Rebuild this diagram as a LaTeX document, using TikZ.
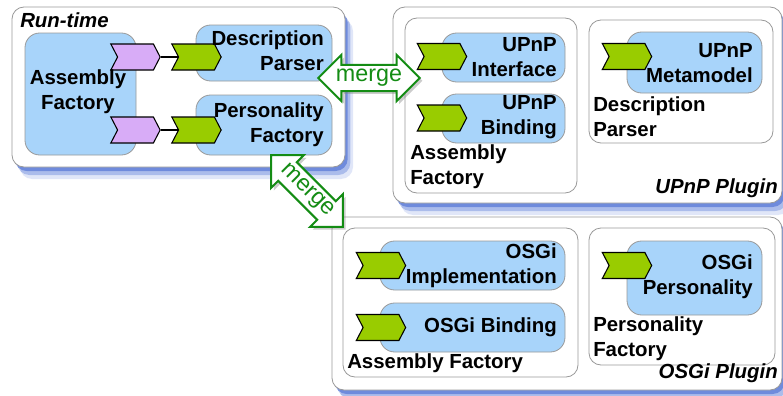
\documentclass[tikz,border=0pt]{standalone}
\usepackage{fontspec}
\setmainfont{Liberation Sans}
\usetikzlibrary{shapes.symbols,shapes.arrows,shadows}
\definecolor{compblue}{RGB}{168,212,250}
\definecolor{reqpurple}{RGB}{216,172,247}
\definecolor{provgreen}{RGB}{153,204,0}
\definecolor{mergegreen}{RGB}{20,140,20}
\definecolor{shadowblue}{RGB}{50,90,205}
\tikzset{
  glow/.style={drop shadow={shadow xshift=2pt,shadow yshift=-3pt,fill=shadowblue,opacity=.5},
               drop shadow={shadow xshift=4pt,shadow yshift=-6pt,fill=shadowblue,opacity=.3},
               drop shadow={shadow xshift=6pt,shadow yshift=-9pt,fill=shadowblue,opacity=.15}},
  plugin/.style={draw=gray!80,line width=0.6pt,fill=white,rounded corners=9pt,glow},
  part/.style={draw=gray!80,line width=0.6pt,fill=white,rounded corners=9pt},
  comp/.style={draw=gray!80,line width=0.6pt,fill=compblue,rounded corners=11pt},
  port/.style={signal,signal from=west,signal to=east,signal pointer angle=125,draw=black,
               line width=0.8pt,minimum width=37pt,minimum height=19.5pt,inner sep=0pt},
  req/.style={port,fill=reqpurple},
  prov/.style={port,fill=provgreen},
  lbl/.style={font=\fontsize{15.3}{18.75}\selectfont\bfseries,inner sep=0pt},
  title/.style={font=\fontsize{15.3}{18.75}\selectfont\bfseries\itshape,inner sep=0pt},
  merge/.style={double arrow,draw=mergegreen,line width=1.5pt,fill=white,text=mergegreen,
                font=\fontsize{17.5}{20}\selectfont,minimum height=75pt,minimum width=33pt,
                double arrow head extend=7.5pt,inner sep=2.6pt,
                drop shadow={shadow xshift=2pt,shadow yshift=-2pt,opacity=.4}}
}
\begin{document}
\begin{tikzpicture}[x=0.75pt,y=-0.75pt]
\useasboundingbox (0,0) rectangle (783,396);
% run-time
\draw[plugin] (12,7) rectangle (345,167);
\draw[comp] (25,33) rectangle (136,155);
\draw[comp] (196,25) rectangle (332,81);
\draw[comp] (196,95) rectangle (332,155);
\node[req] (rq1) at (135.5,57) {};
\node[req] (rq2) at (135.5,130) {};
\node[prov] (pv1) at (196.5,57) {};
\node[prov] (pv2) at (196.5,130) {};
\draw[line width=0.8pt] (rq1.east) -- (pv1.west);
\draw[line width=0.8pt] (rq2.east) -- (pv2.west);
\node[title,anchor=west] (rt) at (20,20) {Run-time};
\node[lbl,align=center] (af) at (78,92) {Assembly\\Factory};
\node[lbl,align=right,anchor=east] (dp) at (324,51) {Description\\Parser};
\node[lbl,align=right,anchor=east] (pf) at (324,125) {Personality\\Factory};
% upnp plugin
\draw[plugin] (393,7) rectangle (782,203);
\draw[part] (405,18) rectangle (577,193);
\draw[part] (589,20) rectangle (773,143);
\draw[comp] (442,33) rectangle (565,82);
\draw[comp] (442,94) rectangle (565,143);
\draw[comp] (627,32) rectangle (762,93);
\node[prov] (ui) at (442,56.5) {};
\node[prov] (ub) at (442,118) {};
\node[prov] (um) at (627,56.5) {};
\node[lbl,align=right,anchor=east] (uit) at (557,57) {UPnP\\Interface};
\node[lbl,align=right,anchor=east] (ubt) at (557,117) {UPnP\\Binding};
\node[lbl,align=right,anchor=east] (umt) at (753,63) {UPnP\\Metamodel};
\node[lbl,align=left,anchor=west] (uaf) at (410,167) {Assembly\\Factory};
\node[lbl,align=left,anchor=west] (udp) at (593,117) {Description\\Parser};
\node[title,anchor=east] (up) at (778,188) {UPnP Plugin};
% osgi plugin
\draw[plugin] (332,217) rectangle (782,390);
\draw[part] (343,228) rectangle (578,377);
\draw[part] (589,228) rectangle (775,365);
\draw[comp] (380,241) rectangle (565,290);
\draw[comp] (380,303) rectangle (565,352);
\draw[comp] (627,241) rectangle (762,315);
\node[prov] (oi) at (381,265.5) {};
\node[prov] (ob) at (381,327.5) {};
\node[prov] (op) at (627,265.5) {};
\node[lbl,align=right,anchor=east] (oit) at (557,266) {OSGi\\Implementation};
\node[lbl,anchor=east] (obt) at (557,327) {OSGi Binding};
\node[lbl,align=right,anchor=east] (opt) at (753,277) {OSGi\\Personality};
\node[lbl,anchor=west] (oaf) at (347,363) {Assembly Factory};
\node[lbl,align=left,anchor=west] (opf) at (593,339) {Personality\\Factory};
\node[title,anchor=east] (og) at (778,373) {OSGi Plugin};
% merges
\node[merge] (mg1) at (369,78) {merge};
\node[merge,rotate=-45] (mg2) at (307,191) {merge};
\end{tikzpicture}
\end{document}
